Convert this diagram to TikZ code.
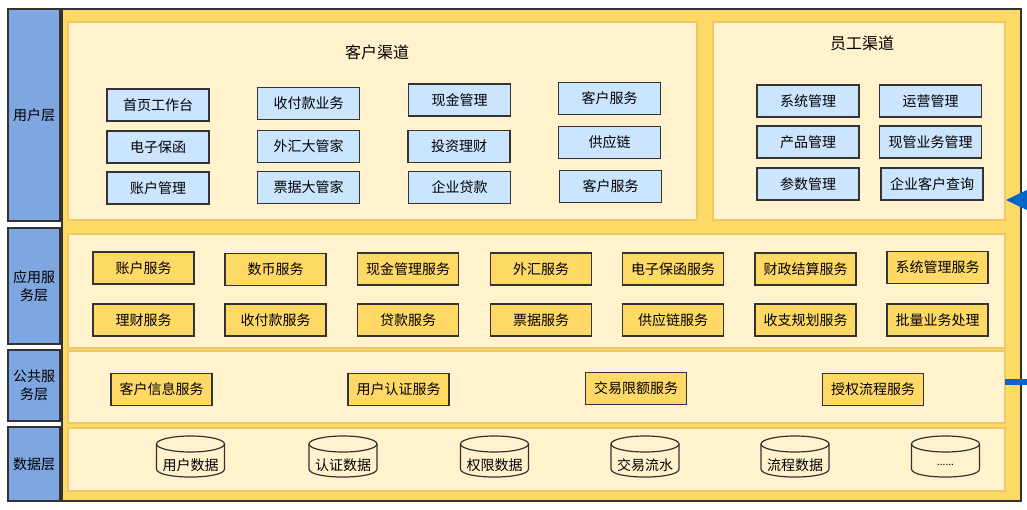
\documentclass[tikz,border=0pt]{standalone}
\usepackage{fontspec}
\setmainfont{Noto Sans CJK SC}
\usetikzlibrary{arrows.meta}
\definecolor{layerblue}{HTML}{7EA6E0}
\definecolor{mainyellow}{HTML}{FFD966}
\definecolor{panelfill}{HTML}{FFF2CC}
\definecolor{panelline}{HTML}{EDC866}
\definecolor{boxblue}{HTML}{CCE5FF}
\definecolor{edge}{HTML}{333333}
\definecolor{arrowblue}{HTML}{0066CC}
\newcommand{\fs}[1]{\fontsize{#1}{#1*1.2}\selectfont}
\tikzset{
  layer/.style={draw=edge, fill=layerblue, line width=1.4pt, inner sep=0pt, align=center, font=\fontsize{14}{18}\selectfont},
  mainbox/.style={draw=edge, fill=mainyellow, line width=1.4pt, inner sep=0pt},
  panel/.style={draw=panelline, fill=panelfill, line width=1.2pt, inner sep=0pt},
  bbox/.style={draw=edge, fill=boxblue, line width=1.3pt, minimum width=102pt, minimum height=32pt, inner sep=0pt, font=\fontsize{14}{17}\selectfont},
  ybox/.style={draw=edge, fill=mainyellow, line width=1.3pt, minimum width=101pt, minimum height=32pt, inner sep=0pt, font=\fontsize{14}{17}\selectfont},
  title/.style={font=\fontsize{16}{19}\selectfont, inner sep=0pt},
  cylline/.style={draw=edge, line width=1.2pt},
  dblabel/.style={font=\fontsize{14}{17}\selectfont, inner sep=0pt},
  bluelink/.style={draw=arrowblue, line width=6pt},
}
\newcommand{\dbcyl}[4]{% name, cx, text, (unused)
  \pgfmathsetmacro{\xa}{#2-34}\pgfmathsetmacro{\xb}{#2+34}
  \draw[cylline] (#2,444) ellipse [x radius=34, y radius=8];
  \draw[cylline] (\xa,444) -- (\xa,469) .. controls (\xa,479.7) and (\xb,479.7) .. (\xb,469) -- (\xb,444);
  \node[dblabel] (#1) at (#2,465) {#3};
}
\begin{document}
\begin{tikzpicture}[x=1pt,y=-1pt]
\useasboundingbox (0,0) rectangle (1027,510);
\clip (0,0) rectangle (1027,510);
\fill[white] (0,0) rectangle (1027,510);

% layer labels
\node[layer, minimum width=52pt, minimum height=212pt] (L1) at (34,115) {用户层};
\node[layer, minimum width=52pt, minimum height=116pt] (L2) at (34,286) {应用服\\务层};
\node[layer, minimum width=52pt, minimum height=71pt] (L3) at (34,385.5) {公共服\\务层};
\node[layer, minimum width=52pt, minimum height=74pt] (L4) at (34,464) {数据层};

% main container
\node[mainbox, minimum width=959pt, minimum height=492pt] (main) at (541.5,255) {};

% panels
\node[panel, minimum width=629pt, minimum height=198pt] (P1) at (382.5,121) {};
\node[panel, minimum width=292pt, minimum height=198pt] (P2) at (859,121) {};
\node[panel, minimum width=937pt, minimum height=114pt] (P3) at (536.5,291) {};
\node[panel, minimum width=937pt, minimum height=72pt] (P4) at (536.5,387) {};
\node[panel, minimum width=937pt, minimum height=63pt] (P5) at (536.5,459.5) {};

% titles
\node[title] (T1) at (377,52) {客户渠道};
\node[title] (T2) at (862,43) {员工渠道};

% customer channel
\node[bbox] (c11) at (158,105) {首页工作台};
\node[bbox] (c12) at (158,147) {电子保函};
\node[bbox] (c13) at (158,188) {账户管理};
\node[bbox] (c21) at (308.5,103.5) {收付款业务};
\node[bbox] (c22) at (308.5,146.5) {外汇大管家};
\node[bbox] (c23) at (308.5,187.5) {票据大管家};
\node[bbox] (c31) at (459.5,100) {现金管理};
\node[bbox] (c32) at (459,146.5) {投资理财};
\node[bbox] (c33) at (459.5,187.5) {企业贷款};
\node[bbox] (c41) at (609.5,98.5) {客户服务};
\node[bbox] (c42) at (609.5,142.5) {供应链};
\node[bbox] (c43) at (610.5,186.5) {客户服务};

% staff channel
\node[bbox] (s11) at (808,101) {系统管理};
\node[bbox] (s12) at (808,142) {产品管理};
\node[bbox] (s13) at (808,184) {参数管理};
\node[bbox] (s21) at (930.5,101) {运营管理};
\node[bbox] (s22) at (930.5,142) {现管业务管理};
\node[bbox] (s23) at (932,184) {企业客户查询};

% application services
\node[ybox] (a11) at (143.5,268) {账户服务};
\node[ybox] (a12) at (275.5,269.5) {数币服务};
\node[ybox] (a13) at (408,269) {现金管理服务};
\node[ybox] (a14) at (541,269) {外汇服务};
\node[ybox] (a15) at (673,269) {电子保函服务};
\node[ybox] (a16) at (805.5,269) {财政结算服务};
\node[ybox] (a17) at (937.5,267.5) {系统管理服务};
\node[ybox] (a21) at (143.5,320) {理财服务};
\node[ybox] (a22) at (275.5,320) {收付款服务};
\node[ybox] (a23) at (408,320) {贷款服务};
\node[ybox] (a24) at (541,320) {票据服务};
\node[ybox] (a25) at (673,320) {供应链服务};
\node[ybox] (a26) at (805.5,320) {收支规划服务};
\node[ybox] (a27) at (937.5,320) {批量业务处理};

% common services
\node[ybox] (p1) at (161.5,389.5) {客户信息服务};
\node[ybox] (p2) at (398.5,389.5) {用户认证服务};
\node[ybox] (p3) at (636,388.5) {交易限额服务};
\node[ybox] (p4) at (873,389.5) {授权流程服务};

% data layer
\dbcyl{d1}{190.5}{用户数据}{}
\dbcyl{d2}{343}{认证数据}{}
\dbcyl{d3}{494.5}{权限数据}{}
\dbcyl{d4}{645}{交易流水}{}
\dbcyl{d5}{795}{流程数据}{}
\dbcyl{d6}{945.5}{\fontsize{10}{12}\selectfont ......}{}

% partial blue connectors at right edge
\coordinate (inTip) at (1006,200);
\coordinate (inFar) at (1080,200);
\coordinate (outStart) at (1005,381.5);
\coordinate (outFar) at (1080,381.5);
\draw[draw=arrowblue, line width=3pt, -{Triangle[length=40pt,width=38pt]}] (inFar) -- (inTip);
\draw[bluelink] (outStart) -- (outFar);
\end{tikzpicture}
\end{document}
